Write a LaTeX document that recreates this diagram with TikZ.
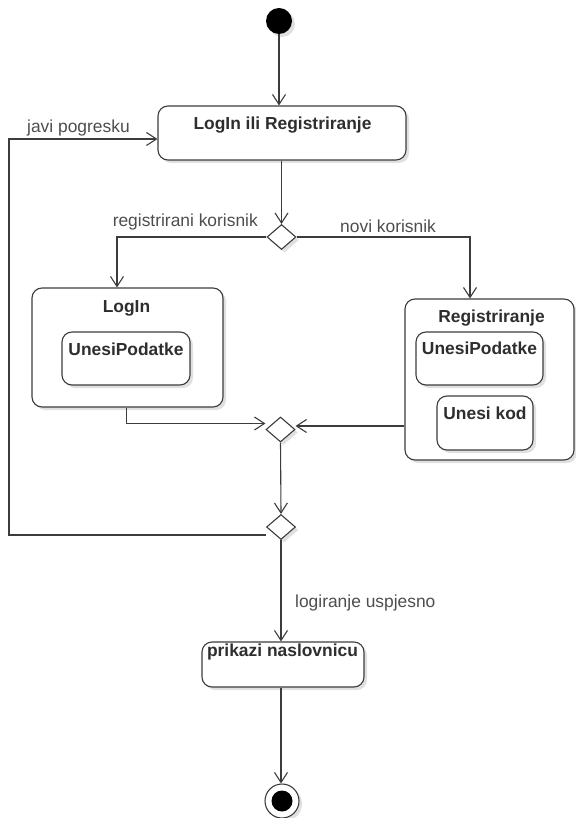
\documentclass[tikz,border=0pt]{standalone}
\usepackage{fontspec}
\setmainfont{Liberation Sans}
\usetikzlibrary{arrows.meta,shapes.geometric,shadows,calc}
\definecolor{lnc}{HTML}{3C3C3C}
\definecolor{lblc}{HTML}{4D4D4D}
\definecolor{ttlc}{HTML}{2E2E2E}

\begin{document}
\begin{tikzpicture}[x=1pt,y=-1pt,
  font=\fontsize{17.4}{20}\selectfont,
  conn/.style={draw=lnc, line width=1.1pt, -{Straight Barb[length=10pt,width=13pt]}},
  softshadow/.style={drop shadow={shadow xshift=3pt,shadow yshift=-3pt,opacity=0.12,fill=black}},
  act/.style={draw=lnc, line width=1.1pt, fill=white, rounded corners=10pt, inner sep=0pt, softshadow},
  dec/.style={diamond, draw=lnc, line width=1.1pt, fill=white, inner sep=0pt,
    minimum width=29pt, minimum height=25pt, softshadow},
  ttl/.style={font=\fontsize{17.4}{20}\selectfont\bfseries, text=ttlc, anchor=base, inner sep=0pt},
  lbl/.style={text=lblc, anchor=base west, inner sep=0pt},
  startdot/.style={circle, fill=black, inner sep=0pt, minimum size=26pt, softshadow},
  endring/.style={circle, draw=lnc, line width=1.1pt, fill=white, inner sep=0pt, minimum size=34pt, softshadow},
  enddot/.style={circle, fill=black, inner sep=0pt, minimum size=21pt},
]
\useasboundingbox (0,0) rectangle (575,818);

% start
\node[startdot] (s) at (279,21) {};

% LogIn ili Registriranje
\node[act, minimum width=248pt, minimum height=54pt] (main) at (282,133) {};
\node[ttl] (mainT) at (282.5,130) {LogIn ili Registriranje};

% first decision
\node[dec] (d1) at (281.5,237) {};

% LogIn
\node[act, minimum width=191pt, minimum height=119pt] (li) at (127.5,347.5) {};
\node[ttl] (liT) at (126.5,312) {LogIn};
\node[act, minimum width=128pt, minimum height=53pt] (liU) at (126,358.5) {};
\node[ttl] (liUT) at (126,355) {UnesiPodatke};

% Registriranje
\node[act, minimum width=169pt, minimum height=161pt] (rg) at (489.5,379.5) {};
\node[ttl] (rgT) at (491.5,322) {Registriranje};
\node[act, minimum width=127pt, minimum height=53pt] (rgU) at (479.5,358.5) {};
\node[ttl] (rgUT) at (479.5,354) {UnesiPodatke};
\node[act, minimum width=96pt, minimum height=54pt] (rgK) at (485,423) {};
\node[ttl] (rgKT) at (485,419) {Unesi kod};

% merge and second decision
\node[dec] (m1) at (280.5,429.5) {};
\node[dec] (d2) at (281,527) {};

% prikazi naslovnicu
\node[act, minimum width=162pt, minimum height=45pt] (pn) at (283,664.5) {};
\node[ttl] (pnT) at (282.5,656) {prikazi naslovnicu};

% end
\node[endring] (e) at (282,801) {};
\node[enddot] (ed) at (e) {};

% connectors
\draw[conn] (s.south) -- (s.south |- main.north);
\draw[conn] (d1.north |- main.south) -- (d1.north);

\coordinate (liIn) at ([xshift=-10.5pt]li.north);
\draw[conn] (d1.west) -| (liIn);
\node[lbl, anchor=base east] (lRK) at (258,226) {registrirani korisnik};

\coordinate (rgIn) at ([xshift=-19.5pt]rg.north);
\draw[conn] (d1.east) -| (rgIn);
\node[lbl] (lNK) at (340,233) {novi korisnik};

\coordinate (liOut) at ([xshift=-1pt]li.south);
\coordinate (m1w) at ([yshift=6pt]m1.west);
\draw[conn] (liOut) |- (m1w);

\coordinate (m1e) at ([yshift=3.5pt]m1.east);
\draw[conn] (rg.west |- m1e) -- (m1e);

\draw[conn] (m1.south) -- (d2.north);

\coordinate (d2w) at ([yshift=-8pt]d2.west);
\coordinate (loopTop) at (9,139);
\coordinate (mainIn) at ([yshift=-6pt]main.west);
\draw[conn] (d2w) -| (loopTop) -- (mainIn);
\node[lbl] (lJP) at (27,133) {javi pogresku};

\draw[conn] (d2.south) -- (d2.south |- pn.north);
\node[lbl] (lLU) at (295,607) {logiranje uspjesno};

\draw[conn] (d2.south |- pn.south) -- (d2.south |- e.north);
\end{tikzpicture}
\end{document}
